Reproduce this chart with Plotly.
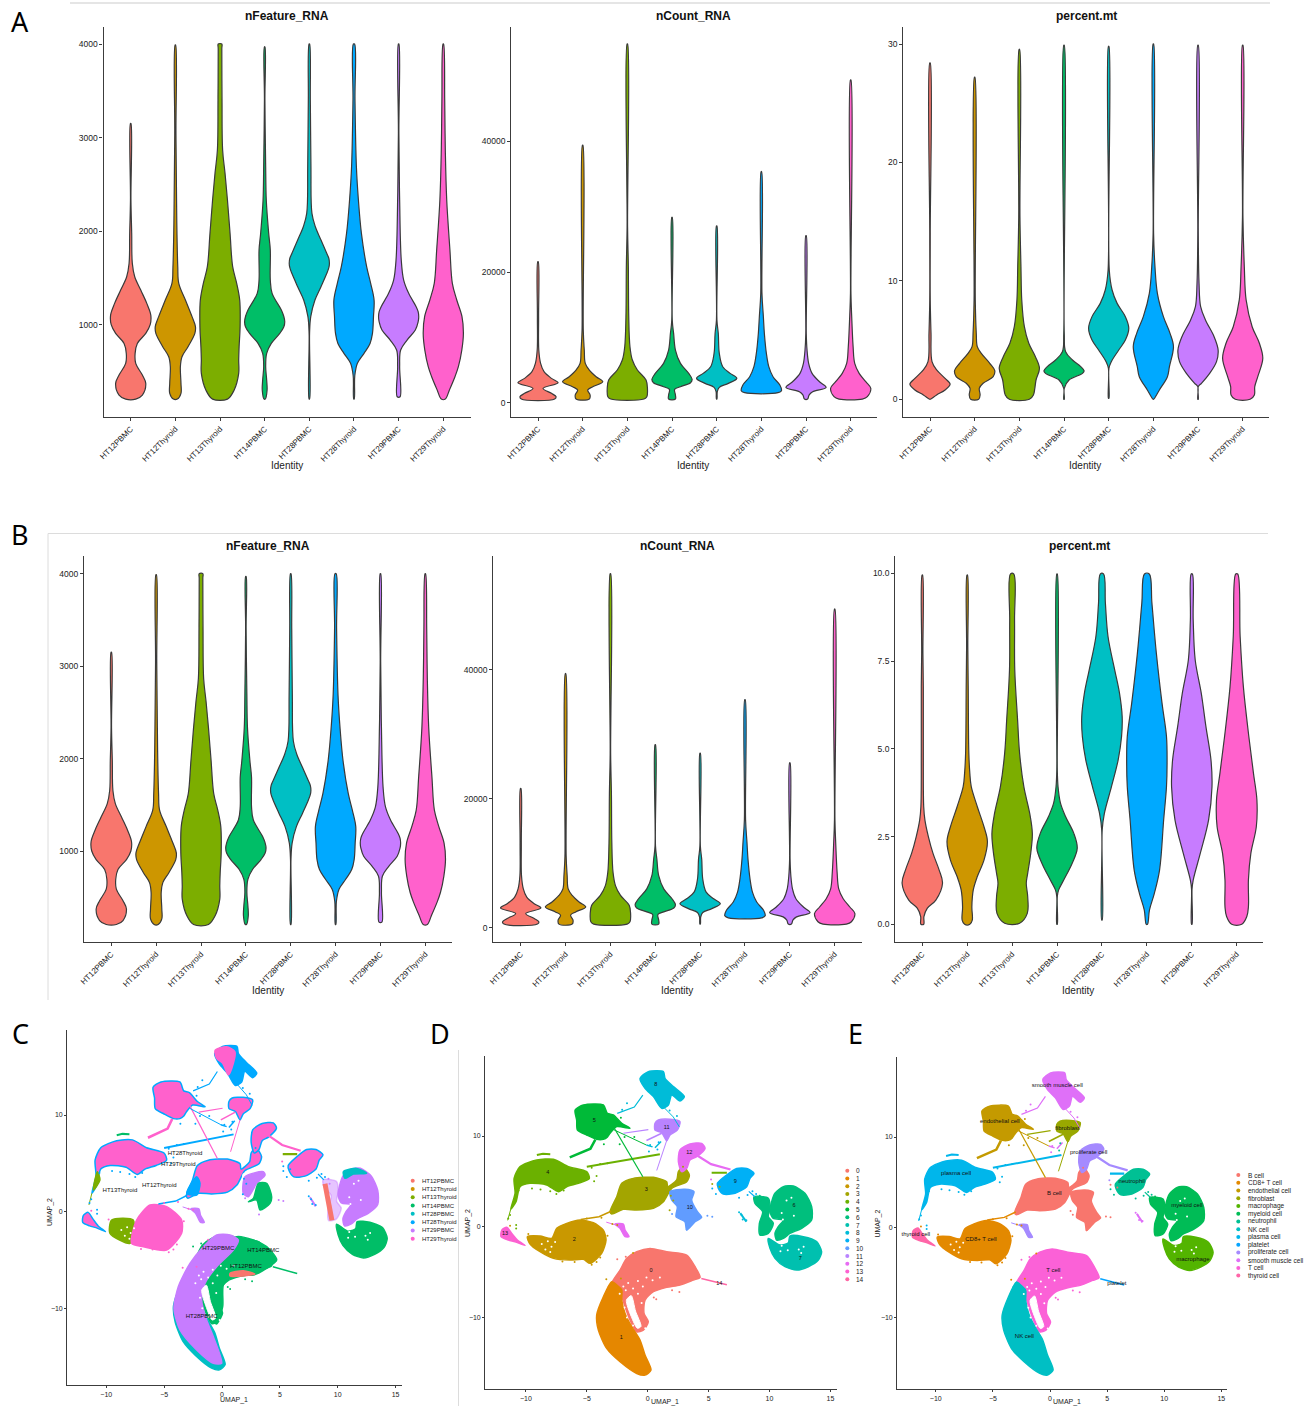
import plotly.graph_objects as go

W, H = 1308, 1406
FONT = "Liberation Sans, Arial, sans-serif"
SAMPLES = ["HT12PBMC", "HT12Thyroid", "HT13Thyroid", "HT14PBMC", "HT28PBMC", "HT28Thyroid", "HT29PBMC", "HT29Thyroid"]
SAMPLE_COLORS = ["#F8766D", "#CD9600", "#7CAE00", "#00BE67", "#00BFC4", "#00A9FF", "#C77CFF", "#FF61CC"]

# ---------- violin profiles: value along the axis and relative density (1 = widest)
FEATURE_VALUES = [
    [205, 248, 373, 462, 587, 694, 800, 907, 1000, 1103, 1228, 1370, 1513, 1655, 1976, 2332, 3150],
    [205, 266, 373, 551, 658, 765, 907, 979, 1086, 1264, 1442, 1620, 1976, 2332, 3045, 3990],
    [205, 300, 480, 622, 765, 979, 1264, 1442, 1620, 1976, 2332, 2617, 2867, 3401, 3950, 4000],
    [205, 300, 408, 551, 694, 800, 907, 975, 1032, 1090, 1157, 1335, 1477, 1798, 1976, 2332, 2689, 3401, 3970],
    [205, 907, 1086, 1264, 1406, 1549, 1610, 1655, 1710, 1762, 1905, 2047, 2190, 2689, 3401, 4000],
    [205, 454, 587, 694, 800, 907, 1086, 1264, 1442, 1620, 1976, 2332, 2689, 3401, 4000],
    [230, 551, 729, 836, 943, 1030, 1086, 1140, 1193, 1335, 1477, 1691, 2332, 3045, 4000],
    [205, 300, 444, 551, 729, 907, 1086, 1264, 1442, 1798, 2332, 2867, 3401, 4000],
]
FEATURE_DENSITY = [
    [.25, .58, .75, .58, .25, .22, .33, .75, .97, 1, .8, .5, .2, .08, .05, .025, .008],
    [.1, .28, .28, .25, .33, .63, .97, 1, .83, .5, .17, .12, .08, .06, .03, .01],
    [.37, .7, .93, .93, .95, 1, .98, .83, .63, .5, .37, .25, .13, .1, .09, .09],
    [.03, .12, .1, .05, .1, .33, .75, .95, 1, .95, .83, .37, .28, .28, .2, .08, .05, .02, .008],
    [.01, .025, .07, .28, .58, .87, .97, 1, .97, .87, .58, .3, .13, .08, .05, .01],
    [.02, .04, .17, .5, .8, .92, .97, 1, .83, .63, .37, .22, .12, .05, .03],
    [.07, .05, .1, .42, .83, .97, 1, .97, .87, .5, .25, .13, .05, .025, .008],
    [.1, .3, .58, .75, .92, 1, .93, .67, .45, .33, .17, .1, .07, .02],
]
COUNT_VALUES = [
    [560, 918, 1430, 2190, 3060, 3720, 4745, 6020, 8060, 13160, 21580],
    [560, 1170, 1940, 2450, 3210, 3980, 5000, 6020, 8060, 11120, 39390],
    [560, 918, 2190, 3470, 5000, 6530, 8570, 13160, 20820, 26940, 54900],
    [560, 1170, 2040, 2450, 3060, 3570, 4490, 6020, 8060, 10600, 12650, 28370],
    [560, 1680, 2350, 2960, 3720, 4490, 5510, 7550, 10600, 12650, 27040],
    [1530, 1840, 2700, 3980, 5510, 7550, 10600, 13160, 16730, 35360],
    [560, 1170, 1680, 2350, 3210, 4490, 6020, 8060, 10600, 25560],
    [560, 918, 2190, 3210, 4490, 6020, 8570, 13160, 16730, 49390],
]
COUNT_DENSITY = [
    [.83, .9, .67, .25, 1, .67, .3, .13, .04, .03, .015],
    [.33, .37, .25, .5, 1, .67, .33, .13, .08, .03, .01],
    [.83, .97, 1, .93, .5, .25, .13, .07, .05, .025, .01],
    [.17, .17, .13, .42, .92, 1, .83, .42, .17, .08, .02, .01],
    [.01, .03, .13, .58, 1, .67, .3, .13, .08, .02, .01],
    [.83, 1, .92, .58, .37, .25, .15, .1, .03, .01],
    [.08, .15, .33, 1, .67, .3, .13, .05, .02, .01],
    [.58, .83, 1, .75, .42, .2, .12, .05, .02, .01],
]
MT30_VALUES = [
    [0, .37, .79, 1.27, 1.77, 2.48, 3.18, 5.57, 8.4, 14, 28.4],
    [0, .37, .93, 1.35, 1.91, 2.42, 3.04, 3.88, 4.45, 5.57, 8.39, 27.2],
    [0, .37, .93, 1.63, 2.62, 3.6, 4.73, 6.13, 8.39, 11.2, 15.4, 29.55],
    [0, .93, 1.63, 2.19, 2.4, 2.76, 3.32, 4.02, 5.57, 29.9],
    [.08, 2.6, 3.18, 4.16, 5, 6, 6.98, 8.1, 9.23, 10.9, 29.8],
    [0, .79, 1.91, 2.76, 4.45, 5.57, 6.98, 8.95, 11.2, 14, 30],
    [0, 1.07, 1.35, 2.19, 3.18, 4.16, 5.29, 6.7, 7.82, 9.8, 14, 29.9],
    [0, .37, 1.07, 1.91, 3.46, 4.73, 6.13, 8.39, 11.2, 15.4, 29.9],
]
MT30_DENSITY = [
    [.02, .33, .75, 1, .75, .33, .1, .05, .025, .015, .01],
    [.2, .27, .23, .42, .92, 1, .75, .33, .13, .08, .03, .01],
    [.5, .7, .77, .83, 1, .8, .47, .25, .12, .08, .03, .01],
    [.015, .02, .25, .92, 1, .83, .42, .08, .02, .015],
    [.015, .02, .13, .5, .83, 1, .83, .42, .17, .03, .015],
    [.02, .3, .7, .8, 1, .83, .5, .2, .08, .025, .01],
    [.015, .025, .17, .58, .92, 1, .8, .37, .13, .05, .02, .01],
    [.37, .58, .6, .75, 1, .83, .47, .17, .08, .025, .01],
]
MT10_VALUES = [
    [0, .22, .46, .69, 1.17, 1.55, 2.02, 2.5, 2.97, 3.35, 4.87, 6.77, 7.72, 9.95],
    [0, .12, .5, .98, 1.36, 1.83, 2.36, 2.78, 3.35, 3.92, 4.3, 4.87, 6.77, 7.9, 9.95],
    [.03, .31, .79, 1.17, 1.45, 2.02, 2.59, 3.16, 3.92, 4.87, 5.82, 7.25, 8.67, 9.98],
    [0, .79, .98, 1.26, 1.74, 2.17, 2.59, 3.07, 3.45, 3.92, 4.4, 9.98],
    [.12, 2.69, 3.16, 3.92, 4.68, 5.35, 5.92, 6.58, 7.25, 8.2, 9.15, 9.98],
    [0, .41, .88, 1.55, 2.97, 3.92, 4.59, 5.35, 6.3, 7.72, 9.15, 9.98],
    [0, 1, 1.26, 2.02, 2.97, 3.92, 4.68, 5.63, 6.58, 7.53, 8.67, 9.98],
    [0, .22, .5, 1.26, 2.02, 2.78, 3.54, 4.3, 5.35, 6.77, 8.2, 9.98],
]
MT10_DENSITY = [
    [.07, .08, .25, .67, 1, .83, .53, .3, .13, .07, .05, .05, .03, .02],
    [.13, .25, .23, .3, .5, .83, 1, .83, .5, .2, .13, .08, .05, .03, .01],
    [.37, .75, .77, .7, .77, .92, 1, .87, .58, .37, .27, .13, .12, .08],
    [.01, .02, .08, .33, .75, 1, .83, .42, .17, .05, .02, .02],
    [.02, .025, .12, .47, .8, .97, 1, .87, .63, .3, .17, .08],
    [.03, .13, .37, .63, .83, .97, 1, .97, .75, .47, .25, .12],
    [.02, .02, .07, .42, .83, 1, .95, .7, .47, .17, .07, .03],
    [.25, .5, .58, .58, .7, .97, 1, .83, .6, .33, .17, .05],
]

# ---------- UMAP cluster outlines, in UMAP units
CLUSTER_X = [
    [-2.95, -2.27, -1.72, -.9, .19, 1.56, 3.2, 3.89, 4.3, 3.75, 2.65, 1.56, .47, -.22, -.3, .05, -.36, -.9, -1.45, -1.86, -2.13, -2.54],
    [-2.95, -3.64, -4.19, -4.05, -3.37, -2.27, -.9, -.22, .27, -.22, -.63, -1.31, -1.86, -2.13, -2.13, -2.54],
    [-9.88, -8.84, -7.88, -7.47, -6.65, -5.55, -4.46, -3.64, -3.42, -3.78, -4.73, -5.28, -6.37, -7.74, -8.84, -9.66],
    [-3.09, -2.54, -2.13, -1.18, .47, 1.56, 1.64, 2.38, 2.52, 2.93, 3.42, 3.2, 1.97, 1.29, .47, -.9, -2, -2.95],
    [-11.25, -10.89, -10.97, -10.48, -9.11, -7.74, -6.51, -5.01, -4.79, -5.69, -6.65, -7.33, -8.29, -9.66, -10.48, -10.81],
    [-5.96, -5.28, -3.64, -3.31, -2.82, -2.13, -1.45, -2.54, -3.09, -3.3, -3.64, -4.19, -5.01, -5.77, -5.83],
    [10.45, 11.14, 11.96, 12.91, 13.46, 13.46, 12.64, 11.68, 11.14, 10.59, 10.45, 10.72, 11.14, 10.31, 10.04, 10.18],
    [9.9, 10.86, 11.55, 11.68, 12.78, 13.87, 14.28, 14.01, 13.19, 12.23, 11.27, 10.45, 10.04],
    [-.63, .05, 1.29, 1.42, 2.11, 3.01, 2.65, 1.97, 1.7, 1.15, .47, -.22],
    [5.72, 6.48, 7.31, 8.13, 8.73, 8.4, 8.13, 7.17, 6.21, 5.8],
    [1.83, 3.06, 3.8, 3.61, 4.08, 4.43, 3.89, 3.2, 3.06, 2.33, 2.43, 1.97],
    [.6, .88, 1.83, 2.65, 2.43, 1.83, 1.56, 1.15, .6],
    [2.52, 2.65, 3.47, 4.43, 4.71, 4.02, 3.47, 3.2, 2.79],
    [-12.04, -11.98, -11.57, -11.16, -10.7, -10.07, -10.89, -11.44],
    [8.73, 9.9, 10.04, 9.9, 10.31, 9.9, 9.22, 9.17, 9.44, 8.81],
    [-2.68, -2, -1.86, -1.53, -1.86, -2.27],
]
CLUSTER_Y = [
    [-6.25, -4.78, -3.49, -2.76, -2.39, -2.76, -3.13, -4.41, -5.59, -5.88, -6.43, -6.69, -7.17, -8.09, -9.56, -10.48, -11.4, -11.58, -10.29, -8.82, -7.72, -6.8],
    [-6.07, -7.72, -9.74, -11.4, -13.42, -14.89, -16.18, -16.36, -15.81, -14.15, -12.5, -11.03, -9.56, -8.09, -6.99, -6.43],
    [-1.1, -1.03, -1.29, -.18, .37, .74, .44, -.37, -1.47, -2.94, -4.04, -3.6, -3.68, -3.49, -2.76, -1.91],
    [1.65, 3.31, 4.78, 5.33, 5.44, 4.96, 4.41, 5.15, 6.07, 6.62, 5.7, 4.96, 4.23, 2.76, 2.02, 1.84, 1.91, 1.4],
    [1.91, 3.68, 5.33, 6.62, 7.35, 7.43, 6.62, 6.07, 5.33, 4.78, 4.41, 3.86, 4.6, 4.78, 4.41, 2.76],
    [12.87, 13.42, 13.42, 12.5, 12.32, 11.4, 10.85, 11.03, 10.3, 9.9, 9.63, 9.63, 10.11, 10.66, 11.76],
    [3.68, 4.41, 4.49, 3.68, 2.21, .74, -.18, -.74, -1.29, -1.47, -.74, 0, .74, .92, 1.65, 2.76],
    [-1.29, -2.02, -1.76, -1.03, -1.1, -1.65, -2.76, -3.68, -4.41, -4.78, -4.41, -3.49, -2.39],
    [16.36, 17.1, 17.1, 16.36, 15.44, 14.34, 13.86, 14.52, 13.42, 13.05, 14.34, 15.26],
    [4.78, 5.7, 6.43, 6.43, 5.88, 5.33, 4.41, 3.68, 3.6, 4.23],
    [3.86, 4.12, 3.86, 2.94, 1.65, 1.03, .55, -.37, .55, 1.1, 2.21, 2.94],
    [11.4, 11.76, 11.84, 11.58, 10.66, 10.11, 9.49, 10.37, 10.66],
    [7.17, 8.46, 9.12, 9.19, 8.64, 7.72, 7.35, 6.43, 6.07],
    [-1.1, -.37, -.07, -.74, -1.47, -2.06, -1.65, -1.47],
    [3.31, 3.13, 2.02, 1.1, .37, -.74, -.92, .37, 1.65, 2.57],
    [.29, .29, -.37, -1.1, -1.1, -.18],
]
CLUSTER_SLOT = [0, 1, 2, 3, 4, 5, 6, 7, 8, 9, 10, 11, 12, 13, 6, 12]

STRAND_X = [[-5, -2.5, -.3, 1], [-9.1, -8.6, -8], [-4.3, -4.7, -6.4], [-2.8, -.4], [-2.8, -.1], [-.4, -1.1, -2.5],
            [1.15, 2.1, 2.6], [1.56, .74], [1.15, -.1], [.05, -2], [4, 5.2, 6.8], [5.25, 6.5], [4.4, 5.5, 6.5],
            [-5.5, -4, -3], [7.6, 7.9, 8.1], [8.3, 8.8], [-.1, .4], [.6, 1.1], [-11.25, -11.5], [-3.4, -2.4]]
STRAND_Y = [[6.6, 7.2, 7.7, 8], [7.9, 8.05, 8], [9.6, 8.6, 7.65], [11, 5.5], [10.7, 9], [14.5, 13.2, 12.5],
            [13.4, 12.1, 11], [9.5, 6.2], [10.3, 9.5], [10.7, 10.3], [7.9, 6.9, 6.3], [5.95, 5.95], [-5.7, -6.1, -6.4],
            [.8, 1.1, 1.7], [1.5, 1, .55], [3.9, 3.3], [9, 8.8], [8.7, 9.4], [1.9, .7], [.5, .1]]
STRAND_SLOT = [4, 4, 5, 5, 5, 8, 8, 11, 11, 11, 12, 4, 14, 2, 8, 9, 8, 8, 4, 12]
STRAND_WIDTH = [2, 2, 2.5, 1.2, 1, 1.2, 1, 1, 1.5, 1.2, 2.2, 2.2, 1.5, 1.5, 2, 1.2, 1.5, 1.5, 1, 1]

GAP_X = [-1.75, -1.35, -1, -.55, -.85, -1.35]
GAP_Y = [-8.1, -7.6, -9.3, -11, -11.2, -9.9]
SPECK_X = [-2, -1.6, -1.2, -.8, -.4, -.1, .4, 1, -2.3, -1.8, -.8, -.5, -1.9, -1.7, -1.2, -.2,
           -8.2, -7.9, -8.4, -8, -8.7, -7.6, 12.4, 12.8, 12.6, 11, 11.3, 10.9, 11.5, 11, 11.4, 11.1, 11.8, 12]
SPECK_Y = [-6.6, -6.2, -6.8, -6, -6.6, -5.6, -5.9, -5.6, -7.4, -7, -7.4, -8.4, -8.9, -10, -10.9, -11.2,
           -1.6, -2.2, -2.5, -2.8, -1.9, -1.7, -2.5, -2.2, -2.9, -2.1, -1.7, -2.7, -2.6, 1.5, 2.9, .8, 3.2, 1.2]

STRAY_X = [-4.2, -3.9, -4.6, -3.3, -7, -6, -9.8, -5, -3.8, -2.9, -2.5,
           -9.5, -8.8, -8, -7.5, -6.9, -10.6, -11.3, -11.45, -4.4, -4.6, -3.9, -3.3, -4.2,
           8.6, 8.9, 8.2, 7.5, 5.3, 5.6, 9.2, 9.3, 7.5, 7.8, 8.1, 7.7,
           4.9, 5.3, 2, 3.2, 1.9, 2.1, 1.8, 2.9, 5.2, 5.3, 5.9,
           -1.8, -2.5, -1.2, 2, 2.6, .5, .7, -2.2, -3.2, -3.4,
           -2.2, -1.9, -1.1, -2.3, -3.6, 1.8, 2.4, -1.7, -2.1, .2, .1, .8, .9, -11.3, -10.8, -10.8]
STRAY_Y = [-3.9, -3.4, -4.2, -1, -3.85, -3.9, -.8, .9, 1, .3, .2,
           4.2, 4.1, 3.9, 3.6, 4, 4, 1.3, .9, 5, 6.5, 6.9, 7, 5.6,
           3.9, 3.6, 3.5, 3.2, 4.2, 3.6, 3.4, 2.9, 1.6, .8, .7, 1.3,
           1.2, 1.1, 1.4, -.3, 3.4, 2.9, 1.8, 6.6, 5.2, 4.7, 4.4,
           -3.3, -3.6, -2.9, -7, -7.2, -7.8, -8, -5.7, -6.6, -5.8,
           12, 9.9, 9.9, 9.1, 9.1, 12.8, 12.2, 13.6, 12.9, 9, 8.3, 8.5, 9.3, .1, -.2, .2]
STRAY_SLOT = [2, 2, 2, 2, 2, 2, 2, 2, 2, 2, 2,
              4, 4, 4, 4, 4, 4, 4, 4, 4, 4, 4, 4, 4,
              9, 9, 9, 9, 9, 9, 6, 6, 8, 8, 8, 8,
              10, 10, 10, 10, 3, 3, 3, 3, 12, 3, 3,
              0, 0, 2, 0, 0, 0, 0, 2, 1, 2,
              5, 5, 5, 5, 5, 8, 8, 8, 8, 8, 8, 9, 9, 2, 4, 4]

D_COLORS = ["#F8766D", "#E58700", "#C99800", "#A3A500", "#6BB100", "#00BA38", "#00BF7D", "#00C0AF", "#00BCD8",
            "#00B0F6", "#619CFF", "#B983FF", "#E76BF3", "#FD61D1", "#FF67A4"]
D_NAMES = [str(i) for i in range(15)]
D_LABEL_X = [.27, -2.16, -6.02, -.11, -8.21, -4.38, 12.01, 12.53, .66, 7.2, 3.45, 1.56, 3.42, -11.71, 5.88]
D_LABEL_Y = [-4.85, -12.21, -1.47, 4.04, 5.92, 11.7, 2.35, -3.57, 15.7, 5, 2.13, 10.88, 8.2, -.81, -6.29]

E_NAMES = ["B cell", "CD8+ T cell", "endothelial cell", "fibroblast", "macrophage", "myeloid cell", "neutrophil", "NK cell",
           "plasma cell", "platelet", "proliferate cell", "smooth muscle cell", "T cell", "thyroid cell"]
E_COLORS = ["#F8766D", "#E38900", "#C49A00", "#99A800", "#53B400", "#00BC56", "#00C094", "#00BFC4", "#00B6EB", "#06A4FF",
            "#A58AFF", "#DF70F8", "#FB61D7", "#FF66A8"]
E_OF_CLUSTER = [12, 7, 1, 0, 8, 2, 5, 4, 11, 6, 0, 3, 10, 13, 9]
E_LABEL_X = [.38, -6.05, -4.39, 1.52, 12.51, 11.99, 7.16, -2.25, -8.22, 5.85, 3.39, .64, .29, -11.75]
E_LABEL_Y = [3.69, -1.4, 11.77, 10.92, -3.54, 2.36, 5.02, -12.14, 6.01, -6.27, 8.23, 15.7, -4.83, -.77]

C_LABEL_X = [2.07, -5.42, -8.82, 3.57, -1.76, -3.2, -.32, -3.78]
C_LABEL_Y = [-5.66, 2.69, 2.24, -4, -10.86, 6, -3.79, 4.93]
PINK, BLUE, PURPLE, GREEN, TEAL, OLIVE, SALMON = "#FF61CC", "#00A9FF", "#C77CFF", "#00BE67", "#00BFC4", "#7CAE00", "#F8766D"
PATCH_X = [[-.6, .4, 1.12, .98, .55, .06, -.46],
           [-9.54, -7.67, -7.95, -9.68],
           [-7.81, -7.38, -6.22, -4.78, -3.49, -3.49, -4.78, -6.8],
           [-11.12, -10.78, -10.55],
           [-3.05, -2.19, -1.9, -2.19],
           [1.99, 3.57, 3.72, 3, 2.28, 1.84],
           [3.14, 3.86, 4.29, 4.15, 3.29, 3, 2.28, 2.71],
           [1.27, 2.71, 3.86, 4.73, 3.86, 2.71, .98, .12, .06, -.46, -1.1, -1.18, -.46, .69],
           [-1.61, -.46, .69, 1.41, .98, -.46, -1.47, -1.76, -1.33, -.75, -.03, -.75, -2.19, -3.63, -4.15, -3.78, -2.77],
           [.69, 1.84, 2.85, 1.84, .69],
           [10.49, 11.64, 12.5, 11.35, 10.63]]
PATCH_Y = [[16.7, 17.07, 16.55, 15.34, 14.14, 15.34, 15.86],
           [-.86, -.86, -3.28, -2.24],
           [-3.28, -.86, .69, .52, -.86, -2.24, -3.97, -3.62],
           [2.24, 4.14, 3.28],
           [1.9, 3.62, 2.93, 1.72],
           [3.62, 4.14, 3.79, 2.93, 1.55, 1.9],
           [2.93, 2.93, 1.55, .86, .17, 1.21, 1.03, 1.38],
           [-2.59, -2.93, -3.62, -5, -5.86, -6.55, -6.55, -7.59, -9.83, -11.62, -10.86, -7.76, -6.03, -4.31],
           [-3.62, -2.41, -2.41, -2.93, -3.97, -5.69, -7.41, -9.14, -11.21, -12.93, -15.69, -15.69, -14.31, -12.24, -10, -7.76, -5.34],
           [-6.38, -6.1, -6.45, -6.65, -6.65],
           [4.14, 4.48, 3.97, 3.9, 3.45]]
PATCH_COLOR = [PINK, OLIVE, PINK, OLIVE, BLUE, PURPLE, GREEN, GREEN, PURPLE, SALMON, TEAL]
C_BASE_FILL = [GREEN, TEAL, "#ffffff", PINK, PINK, PINK, PURPLE, GREEN, BLUE, PINK, "#ffffff", PINK, PINK, PINK, "rgba(199,124,255,.45)", PURPLE]
C_BASE_EDGE = [GREEN, TEAL, "#ffffff", BLUE, BLUE, BLUE, PURPLE, GREEN, BLUE, BLUE, "#ffffff", BLUE, BLUE, BLUE, "rgba(199,124,255,.45)", PURPLE]
C_STRAND = [BLUE, GREEN, PINK, PINK, BLUE, BLUE, BLUE, PINK, PINK, PINK, PINK, OLIVE, GREEN, BLUE, PURPLE, BLUE, BLUE, BLUE, OLIVE, PURPLE]
C_STRAY = [GREEN, PURPLE, PINK, BLUE, BLUE, BLUE, PURPLE, GREEN, BLUE, BLUE, PURPLE, PINK, PINK, PINK, GREEN]
C_SALMON_X = [8.9, 9.2, 9.5]
C_SALMON_Y = [2.9, 1, -.9]

VIOLIN_PANELS = [
    dict(L=103.5, R=470.5, T=26.5, B=417, c1=130.7, c8=443.3, y1=1000, p1=324.7, y2=4000, p2=44, ticks=[1000, 2000, 3000, 4000], text=None, vals=FEATURE_VALUES, dens=FEATURE_DENSITY, title="nFeature_RNA", tx=286.7, ty=16.5, ix=286.7, iy=465.5),
    dict(L=511.3, R=877, T=26.5, B=417, c1=538, c8=850.7, y1=0, p1=402.7, y2=40000, p2=141.3, ticks=[0, 20000, 40000], text=None, vals=COUNT_VALUES, dens=COUNT_DENSITY, title="nCount_RNA", tx=693.3, ty=16.5, ix=693.3, iy=465.5),
    dict(L=903.3, R=1269, T=26.5, B=417, c1=930, c8=1242.7, y1=0, p1=399.3, y2=30, p2=44, ticks=[0, 10, 20, 30], text=None, vals=MT30_VALUES, dens=MT30_DENSITY, title="percent.mt", tx=1086, ty=16.5, ix=1085, iy=465.5),
    dict(L=84, R=452.3, T=556, B=942.3, c1=111.3, c8=425.3, y1=1000, p1=851, y2=4000, p2=573.7, ticks=[1000, 2000, 3000, 4000], text=None, vals=FEATURE_VALUES, dens=FEATURE_DENSITY, title="nFeature_RNA", tx=267.7, ty=546, ix=267.7, iy=990),
    dict(L=493.3, R=861.7, T=556, B=942.3, c1=520.7, c8=834.7, y1=0, p1=927.7, y2=40000, p2=669.7, ticks=[0, 20000, 40000], text=None, vals=COUNT_VALUES, dens=COUNT_DENSITY, title="nCount_RNA", tx=677.3, ty=546, ix=677.3, iy=990),
    dict(L=895.3, R=1262.7, T=556, B=942.3, c1=922.3, c8=1236.7, y1=0, p1=924.3, y2=10, p2=573.3, ticks=[0, 2.5, 5, 7.5, 10], text=["0.0", "2.5", "5.0", "7.5", "10.0"], vals=MT10_VALUES, dens=MT10_DENSITY, title="percent.mt", tx=1079, ty=546, ix=1078.3, iy=990),
]
UMAP_PANELS = [
    dict(L=67.3, R=402.3, T=1030, B=1385, x0=222, xs=11.57, y0=1211.7, ys=9.667, xl=(234.3, 1399.5), yl=(49.3, 1211.7)),
    dict(L=485.3, R=837.3, T=1056, B=1389.3, x0=647.7, xs=12.18, y0=1226.7, ys=9.07, xl=(665, 1401.5), yl=(467.3, 1222.7)),
    dict(L=897.3, R=1227.3, T=1057.3, B=1389, x0=1050, xs=11.42, y0=1227.3, ys=9.03, xl=(1067, 1401.5), yl=(878.3, 1223.3)),
]

fig = go.Figure()
layout = dict(width=W, height=H, margin=dict(l=0, r=0, t=0, b=0, pad=0), autosize=False, paper_bgcolor="white", plot_bgcolor="rgba(0,0,0,0)",
              showlegend=False, font=dict(family=FONT, color="#222"), annotations=[], shapes=[], hovermode=False)


def note(text, px, py, size, bold=False, color="#222", angle=0, xanchor="center", family=FONT):
    layout["annotations"].append(dict(text=f"<b>{text}</b>" if bold else text, x=px / W, y=1 - py / H, xref="paper", yref="paper",
                                      showarrow=False, xanchor=xanchor, yanchor="middle", textangle=angle,
                                      font=dict(size=size, color=color, family=family)))


def add_axes(n, P, xrange, yrange, xtick, xtext, ytick, ytext, tick_size, tick_len):
    suffix = "" if n == 1 else str(n)
    common = dict(showgrid=False, zeroline=False, showline=True, automargin=False, linecolor="#3c3c3c", linewidth=1.3, ticks="outside",
                  ticklen=tick_len, tickwidth=1, tickcolor="#3c3c3c", tickfont=dict(size=tick_size, color="#222", family=FONT))
    layout["xaxis" + suffix] = dict(common, domain=[P["L"] / W, P["R"] / W], range=xrange, anchor="y" + suffix, tickmode="array", tickvals=xtick, ticktext=xtext)
    layout["yaxis" + suffix] = dict(common, domain=[1 - P["B"] / H, 1 - P["T"] / H], range=yrange, anchor="x" + suffix, tickmode="array", tickvals=ytick, ticktext=ytext)
    return "x" + suffix, "y" + suffix


axis_no = 1
for P in VIOLIN_PANELS:
    s = (P["c8"] - P["c1"]) / 7
    xr = [1 + (P["L"] - P["c1"]) / s, 1 + (P["R"] - P["c1"]) / s]
    perpx = (P["y2"] - P["y1"]) / (P["p1"] - P["p2"])
    yr = [P["y1"] - (P["B"] - P["p1"]) * perpx, P["y1"] + (P["p1"] - P["T"]) * perpx]
    ax, ay = add_axes(axis_no, P, xr, yr, list(range(1, 9)), SAMPLES, P["ticks"], P["text"] or [str(t) for t in P["ticks"]], 8.5, 3)
    suffix = "" if axis_no == 1 else str(axis_no)
    layout["xaxis" + suffix]["tickangle"] = -45
    layout["xaxis" + suffix]["tickfont"] = dict(size=8, color="#222", family=FONT)
    for i, (vals, dens) in enumerate(zip(P["vals"], P["dens"])):
        half = [.45 * (d if d >= .03 else .012) for d in dens]
        right = [i + 1 + h for h in half]
        left = [i + 1 - h for h in half]
        fig.add_trace(go.Scatter(x=right + left[::-1] + [right[0]], y=vals + vals[::-1] + [vals[0]], mode="lines", fill="toself",
                                 fillcolor=SAMPLE_COLORS[i], line=dict(color="#3a3a3a", width=1.2, shape="spline", smoothing=1),
                                 xaxis=ax, yaxis=ay, hoverinfo="skip"))
    note(P["title"], P["tx"], P["ty"], 12, bold=True, color="#111")
    note("Identity", P["ix"], P["iy"], 10)
    axis_no += 1


def poly(x, y, fill, edge, ax, ay, w=1.5):
    fig.add_trace(go.Scatter(x=x + x[:1], y=y + y[:1], mode="lines", fill="toself", fillcolor=fill,
                             line=dict(color=edge, width=w, shape="spline", smoothing=.7), xaxis=ax, yaxis=ay, hoverinfo="skip"))


for k, P in enumerate(UMAP_PANELS):
    xr = [(P["L"] - P["x0"]) / P["xs"], (P["R"] - P["x0"]) / P["xs"]]
    yr = [(P["y0"] - P["B"]) / P["ys"], (P["y0"] - P["T"]) / P["ys"]]
    ax, ay = add_axes(axis_no, P, xr, yr, [-10, -5, 0, 5, 10, 15], ["−10", "−5", "0", "5", "10", "15"], [-10, 0, 10], ["−10", "0", "10"], 7, 2)
    axis_no += 1
    for c, (x, y) in enumerate(zip(CLUSTER_X, CLUSTER_Y)):
        slot = CLUSTER_SLOT[c]
        if k == 0:
            fill, edge = C_BASE_FILL[c], C_BASE_EDGE[c]
        elif k == 1:
            fill = edge = D_COLORS[slot]
        else:
            fill = edge = E_COLORS[E_OF_CLUSTER[slot]]
        poly(x, y, fill, edge, ax, ay, 1.5)
    if k == 0:
        for x, y, col in zip(PATCH_X, PATCH_Y, PATCH_COLOR):
            poly(x, y, col, col, ax, ay)
    for x, y, slot, wd, cc in zip(STRAND_X, STRAND_Y, STRAND_SLOT, STRAND_WIDTH, C_STRAND):
        col = cc if k == 0 else (D_COLORS[slot] if k == 1 else E_COLORS[E_OF_CLUSTER[slot]])
        fig.add_trace(go.Scatter(x=x, y=y, mode="lines", line=dict(color=col, width=wd), xaxis=ax, yaxis=ay, hoverinfo="skip"))
    if k == 0:
        fig.add_trace(go.Scatter(x=C_SALMON_X, y=C_SALMON_Y, mode="lines", line=dict(color=SALMON, width=5), xaxis=ax, yaxis=ay, hoverinfo="skip"))
    poly(GAP_X, GAP_Y, "white", "white", ax, ay, 1)
    fig.add_trace(go.Scatter(x=SPECK_X, y=SPECK_Y, mode="markers", marker=dict(color="white", size=2), xaxis=ax, yaxis=ay, hoverinfo="skip"))
    stray_cols = [C_STRAY[s] if k == 0 else (D_COLORS[s] if k == 1 else E_COLORS[E_OF_CLUSTER[s]]) for s in STRAY_SLOT]
    fig.add_trace(go.Scatter(x=STRAY_X, y=STRAY_Y, mode="markers", marker=dict(color=stray_cols, size=2), xaxis=ax, yaxis=ay, hoverinfo="skip"))
    names = [SAMPLES, D_NAMES, E_NAMES][k]
    lx = [C_LABEL_X, D_LABEL_X, E_LABEL_X][k]
    ly = [C_LABEL_Y, D_LABEL_Y, E_LABEL_Y][k]
    fig.add_trace(go.Scatter(x=lx, y=ly, text=names, mode="text", textposition="middle center",
                             textfont=dict(size=5.5 if k == 1 else 6, color="#111", family=FONT), xaxis=ax, yaxis=ay, hoverinfo="skip"))
    note("UMAP_1", P["xl"][0], P["xl"][1], 7)
    note("UMAP_2", P["yl"][0], P["yl"][1], 7, angle=-90)

layout["xaxis10"] = dict(domain=[0, 1], range=[0, W], visible=False, anchor="y10", automargin=False)
layout["yaxis10"] = dict(domain=[0, 1], range=[H, 0], visible=False, anchor="x10", automargin=False)
LEGENDS = [(SAMPLES, SAMPLE_COLORS, 412.7, 420, 1180.7, 8.29, 6), (D_NAMES, D_COLORS, 847.3, 854.3, 1170.7, 7.76, 6.5), (E_NAMES, E_COLORS, 1238.3, 1245.7, 1175, 7.74, 6.5)]
for names, cols, kx, tx, y0, step, size in LEGENDS:
    ys = [y0 + i * step for i in range(len(names))]
    fig.add_trace(go.Scatter(x=[kx] * len(names), y=ys, mode="markers", marker=dict(size=4, color=cols), xaxis="x10", yaxis="y10", hoverinfo="skip"))
    for n, yy in zip(names, ys):
        note(n, tx, yy, size, xanchor="left")

for text, px, py in [("A", 20, 21), ("B", 20, 535), ("C", 20, 1033), ("D", 440, 1033), ("E", 855, 1033)]:
    note(text, px, py, 27, color="#000", family="Noto Sans, sans-serif")

for x0, y0, x1, y1 in [(70, 3, 1270, 3), (48, 533.5, 1268, 533.5), (48, 533.5, 48, 1000), (458.5, 1050, 458.5, 1406)]:
    layout["shapes"].append(dict(type="line", xref="paper", yref="paper", x0=x0 / W, x1=x1 / W, y0=1 - y0 / H, y1=1 - y1 / H,
                                 line=dict(color="#dcdcdc", width=1.5 if y0 == 3 else 1)))

fig.update_layout(**layout)
fig.write_html("out.html", config=dict(displayModeBar=False), post_script="document.body.style.margin='0';")
